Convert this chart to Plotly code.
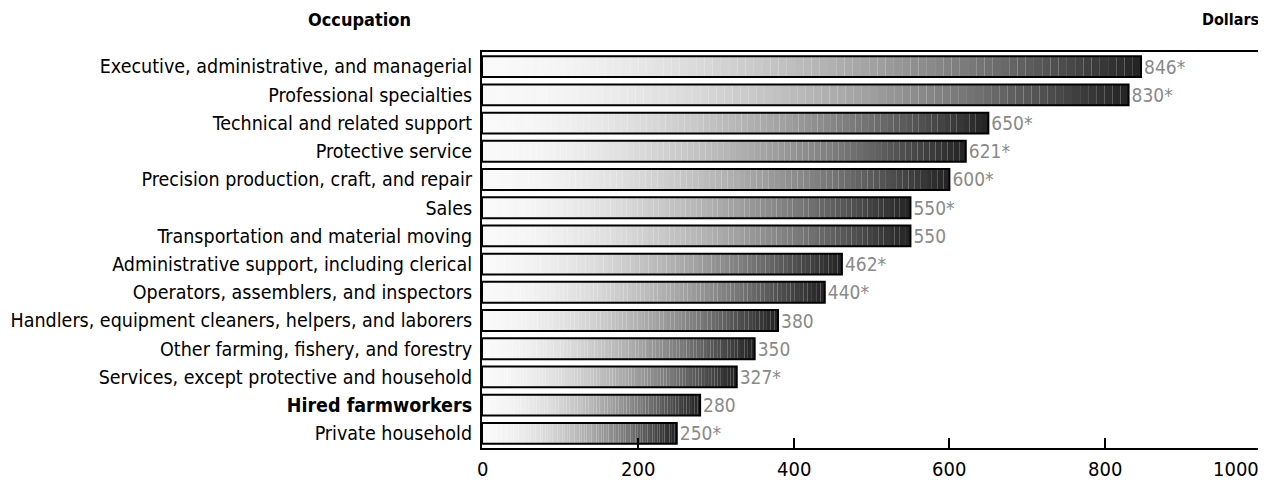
import plotly.graph_objects as go

occupations = [
    "Executive, administrative, and managerial",
    "Professional specialties",
    "Technical and related support",
    "Protective service",
    "Precision production, craft, and repair",
    "Sales",
    "Transportation and material moving",
    "Administrative support, including clerical",
    "Operators, assemblers, and inspectors",
    "Handlers, equipment cleaners, helpers, and laborers",
    "Other farming, fishery, and forestry",
    "Services, except protective and household",
    "Hired farmworkers",
    "Private household",
]
dollars = [846, 830, 650, 621, 600, 550, 550, 462, 440, 380, 350, 327, 280, 250]
value_labels = ["846*", "830*", "650*", "621*", "600*", "550*", "550", "462*",
                "440*", "380", "350", "327*", "280", "250*"]
tick_values = [0, 200, 400, 600, 800, 1000]
tick_labels = ["0", "200", "400", "600", "800", "1000"]

FONT = "DejaVu Sans Condensed, Liberation Sans, Arial"

ticktext = ["<b>%s</b>" % o if o == "Hired farmworkers" else o for o in occupations]
ypos = list(range(len(occupations)))

fig = go.Figure()

# gradient fill: each bar split into equal segments shaded light -> dark
N = 80
for k in range(N):
    t = (k + 0.5) / N
    g = int(250 - 215 * (t ** 1.7))
    fig.add_trace(go.Bar(
        y=ypos,
        x=[v / N for v in dollars],
        base=[v * k / N for v in dollars],
        orientation="h",
        width=0.74,
        marker=dict(color="rgb(%d,%d,%d)" % (g, g, g), line=dict(width=0)),
        hoverinfo="skip",
        showlegend=False,
    ))

# outlines + value labels
fig.add_trace(go.Bar(
    y=ypos,
    x=dollars,
    orientation="h",
    width=0.74,
    marker=dict(color="rgba(0,0,0,0)", line=dict(color="black", width=2)),
    text=value_labels,
    textposition="outside",
    constraintext="none",
    cliponaxis=False,
    textfont=dict(family=FONT, size=19, color="#8a8a8a"),
    showlegend=False,
))

annotations = []
for v, lab in zip(tick_values, tick_labels):
    annotations.append(dict(
        x=v, y=0, xref="x", yref="paper", text=lab, showarrow=False,
        xanchor="right" if v == 1000 else "center", yanchor="top", yshift=-7,
        font=dict(family=FONT, size=20, color="black"),
    ))
annotations.append(dict(
    x=-0.088, y=1.081, xref="paper", yref="paper", text="<b>Occupation</b>",
    showarrow=False, xanchor="right", yanchor="middle",
    font=dict(family=FONT, size=18, color="black"),
))
annotations.append(dict(
    x=1.0, y=1.081, xref="paper", yref="paper", text="<b>Dollars</b>",
    showarrow=False, xanchor="right", yanchor="middle",
    font=dict(family=FONT, size=16, color="black"),
))

# the page body adds an 8px offset, so the figure is sized to fit after it
fig.update_layout(
    width=1258, height=475,
    margin=dict(l=474, r=3, t=44, b=35),
    barmode="overlay",
    plot_bgcolor="white", paper_bgcolor="white",
    annotations=annotations,
    font=dict(family=FONT, color="black"),
)
fig.update_xaxes(
    range=[0, 1000], tickvals=tick_values, showticklabels=False,
    ticks="inside", ticklen=10, tickwidth=2, tickcolor="black",
    showline=True, linecolor="black", linewidth=2, mirror=True,
    showgrid=False, zeroline=False,
)
fig.update_yaxes(
    tickvals=ypos, ticktext=ticktext, range=[13.52, -0.52],
    ticks="", ticklabelstandoff=4,
    tickfont=dict(family=FONT, size=19.5, color="black"),
    showline=True, linecolor="black", linewidth=2, mirror=True,
    showgrid=False, zeroline=False,
)

fig.write_html("out.html")
